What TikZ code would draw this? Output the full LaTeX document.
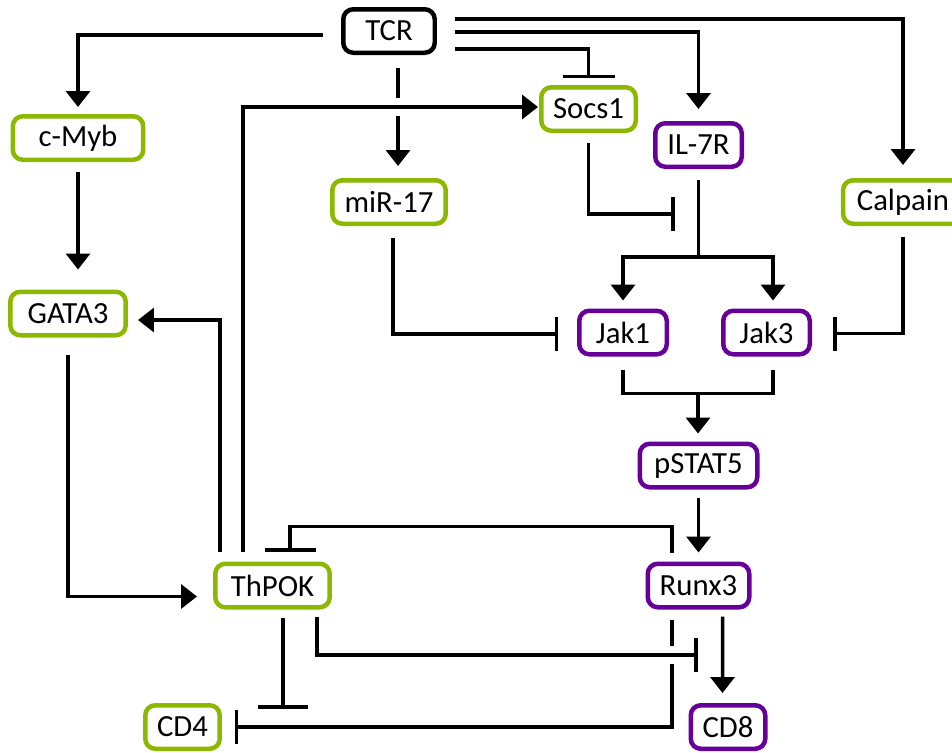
\documentclass[tikz,border=0pt]{standalone}
\usepackage{fontspec}
\setmainfont{Carlito}
\usetikzlibrary{arrows.meta, calc}

\definecolor{genegreen}{RGB}{140,184,0}
\definecolor{genepurple}{RGB}{102,0,153}

\begin{document}
\begin{tikzpicture}[
    x=0.02cm, y=-0.02cm,
    box/.style={draw, rectangle, rounded corners=0.2cm, line width=0.09cm, minimum height=0.87cm, inner sep=1pt, fill=white, font=\fontsize{17.5}{20}\selectfont},
    grn/.style={box, draw=genegreen},
    prp/.style={box, draw=genepurple},
    link/.style={line width=0.07cm},
    act/.style={link, -{Triangle[width=0.48cm, length=0.32cm]}},
    inh/.style={link, -{Bar[width=#1]}},
    inh/.default=0.68cm,
    hop/.style={preaction={draw=white, line width=0.37cm, -}}
]
    \useasboundingbox (0,0) rectangle (952,752);

    % Receptor and early targets
    \node[box, minimum width=1.83cm] (tcr) at (389,31) {TCR};
    \node[grn, minimum width=2.61cm] (cmyb) at (78,138) {c-Myb};
    \node[grn, minimum width=2.31cm] (gata) at (68,313.5) {GATA3};
    \node[grn, minimum width=2.27cm] (mir) at (389,202) {miR-17};
    \node[grn, minimum width=1.89cm] (socs) at (588.5,109) {Socs1};
    \node[prp, minimum width=1.73cm] (il7r) at (698.5,145) {IL-7R};
    \node[grn, minimum width=2.4cm] (calp) at (903,202) {Calpain};

    % Signalling
    \node[prp, minimum width=1.75cm] (jak1) at (623,332.5) {Jak1};
    \node[prp, minimum width=1.73cm] (jak3) at (766.5,332.5) {Jak3};
    \node[prp, minimum width=2.35cm] (pstat) at (698.5,465.5) {pSTAT5};

    % Lineage factors and outcome
    \node[grn, minimum width=2.29cm] (thpok) at (272.5,585.5) {ThPOK};
    \node[prp, minimum width=2.03cm] (runx) at (698.5,585.5) {Runx3};
    \node[grn, minimum width=1.49cm] (cd4) at (182.5,727) {CD4};
    \node[prp, minimum width=1.49cm] (cd8) at (728,727) {CD8};

    % TCR outputs
    \draw[act, shorten >=0.14cm] ($(tcr.west)+(-18,4)$) -| (cmyb.north);
    \draw[act, shorten <=0.26cm, shorten >=0.24cm] ($(tcr.south)+(9,0)$) -- ($(mir.north)+(9,0)$);
    \draw[inh=1.04cm] ($(tcr.east)+(18,18)$) -| ($(socs.north)+(0,-7)$);
    \draw[act, shorten >=0.24cm] ($(tcr.east)+(18,1)$) -| (il7r.north);
    \draw[act, shorten >=0.26cm] ($(tcr.east)+(18,-12)$) -| (calp.north);

    % Left branch
    \draw[act, shorten <=0.2cm, shorten >=0.4cm] (cmyb.south) -- (cmyb.south |- gata.north);
    \draw[act, shorten <=0.34cm, shorten >=0.32cm] (gata.south) |- ($(thpok.west)+(0,11)$);
    \draw[act, shorten <=0.2cm, shorten >=0.2cm] ($(thpok.north west)+(7,0)$) |- ($(gata.east)+(0,6.5)$);
    \draw[act, hop, shorten <=0.2cm, shorten >=0.02cm] ($(thpok.north west)+(30,0)$) |- ($(socs.west)+(0,-2)$);

    % IL-7R to Jak
    \coordinate (fork) at ($(il7r.south)+(0,88)$);
    \draw[inh, shorten <=0.2cm] (socs.south) |- ($(il7r.south)+(-24,45)$);
    \draw[link, shorten <=0.22cm] (il7r.south) -- (fork);
    \draw[act, shorten >=0.16cm] (fork) -| (jak1.north);
    \draw[act, shorten >=0.16cm] (fork) -| ($(jak3.north)+(6.5,0)$);
    \draw[inh, shorten <=0.24cm] ($(mir.south)+(4,0)$) |- ($(jak1.west)+(-19,1.5)$);
    \draw[inh, shorten <=0.22cm] (calp.south) |- ($(jak3.east)+(21,1)$);

    % Jak to pSTAT5 to Runx3
    \coordinate (merge) at ($(jak1.south)+(75,37)$);
    \draw[link, shorten <=0.26cm, shorten >=0.26cm] (jak1.south) -- ++(0,37) -| ($(jak3.south)+(6.5,0)$);
    \draw[act, shorten >=0.16cm] (merge) -- (merge |- pstat.north);
    \draw[act, shorten <=0.16cm, shorten >=0.18cm] (pstat.south) -- (runx.north);

    % Cross regulation
    \draw[inh=1.02cm] ($(runx.north)+(-26.5,-9)$) -- ++(0,-26) -| ($(thpok.north)+(17.5,-10)$);
    \draw[inh] ($(runx.south)+(-26.5,10)$) |- ($(cd4.east)+(13,0)$);
    \draw[inh=1.0cm] ($(thpok.south)+(10.5,8)$) -- ++(0,91);
    \draw[inh, hop] ($(thpok.south)+(44.5,7)$) |- ($(cd8.north)+(-30.5,-48)$);
    \draw[act] ($(runx.south)+(24,7)$) -- ($(cd8.north)+(-5.5,-10)$);

\end{tikzpicture}
\end{document}
